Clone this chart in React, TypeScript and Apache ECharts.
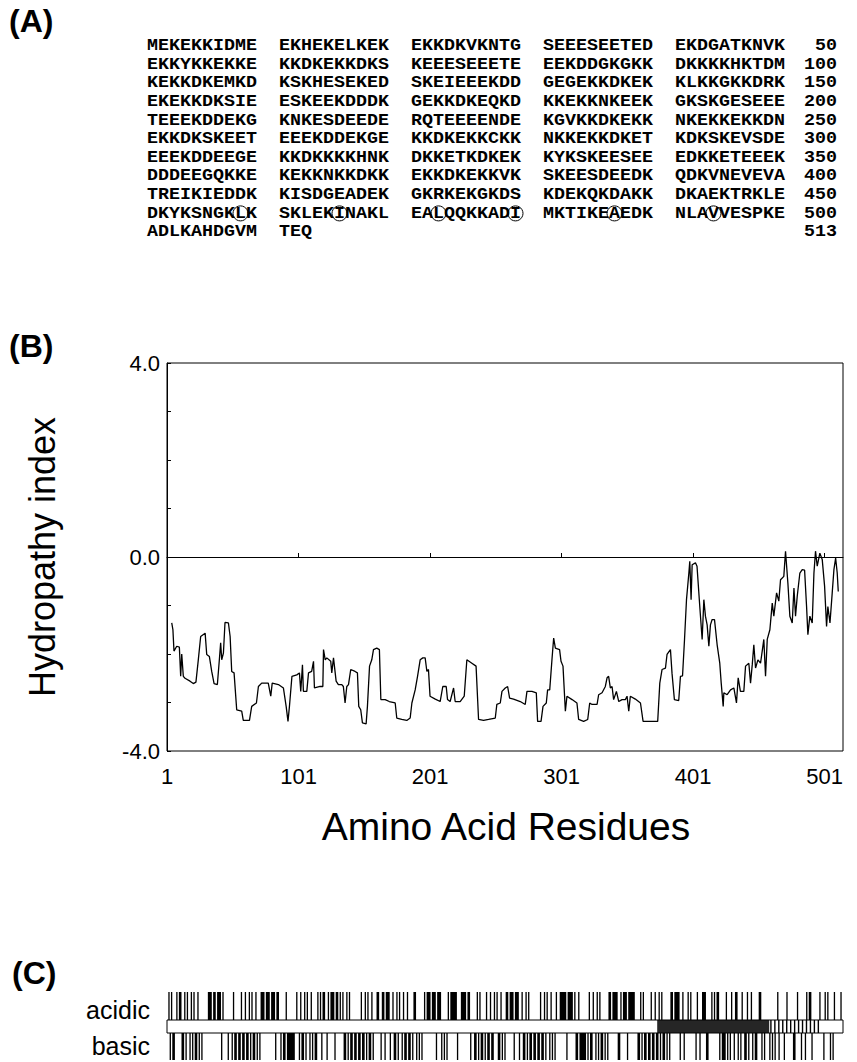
import React, { useEffect, useRef } from "react";
import * as echarts from "echarts";

// ---------- DATA ----------
const seqRows: string[][] = [
  ["MEKEKKIDME", "EKHEKELKEK", "EKKDKVKNTG", "SEEESEETED", "EKDGATKNVK"],
  ["EKKYKKEKKE", "KKDKEKKDKS", "KEEESEEETE", "EEKDDGKGKK", "DKKKKHKTDM"],
  ["KEKKDKEMKD", "KSKHESEKED", "SKEIEEEKDD", "GEGEKKDKEK", "KLKKGKKDRK"],
  ["EKEKKDKSIE", "ESKEEKDDDK", "GEKKDKEQKD", "KKEKKNKEEK", "GKSKGESEEE"],
  ["TEEEKDDEKG", "KNKESDEEDE", "RQTEEEENDE", "KGVKKDKEKK", "NKEKKEKKDN"],
  ["EKKDKSKEET", "EEEKDDEKGE", "KKDKEKKCKK", "NKKEKKDKET", "KDKSKEVSDE"],
  ["EEEKDDEEGE", "KKDKKKKHNK", "DKKETKDKEK", "KYKSKEESEE", "EDKKETEEEK"],
  ["DDDEEGQKKE", "KEKKNKKDKK", "EKKDKEKKVK", "SKEESDEEDK", "QDKVNEVEVA"],
  ["TREIKIEDDK", "KISDGEADEK", "GKRKEKGKDS", "KDEKQKDAKK", "DKAEKTRKLE"],
  ["DKYKSNGKLK", "SKLEKINAKL", "EALQQKKADI", "MKTIKEAEDK", "NLAVVESPKE"],
  ["ADLKAHDGVM", "TEQ"],
];
const rowNumbers = ["50", "100", "150", "200", "250", "300", "350", "400", "450", "500", "513"];
const circledResidues = [459, 466, 473, 480, 487, 494];

// hydropathy profile: residue offset (residue number - 1) and index value
const hydroOffset = [
  3.6, 4.5, 5.3, 7.4, 9.4, 10.4, 11.2, 12.4, 13.7, 17.5, 20, 22, 23.8, 25.6, 29, 30.2, 32.2, 34, 35.8, 38.3,
  39.8, 40.8, 41.6, 42.9, 44.1, 46.7, 48, 49.2, 51, 53, 56.8, 58, 62.7, 64.4, 68, 69.5, 72, 77, 78.9, 80,
  84.7, 88.5, 90.6, 92, 93.1, 95, 98.7, 100.7, 101.7, 103, 103.7, 106.3, 107.6, 110, 111.4, 112.1, 116.4, 118.5, 119, 120.3,
  121.5, 124.5, 125.3, 126.6, 128.6, 130.3, 132.9, 134.1, 135.4, 136.7, 138, 139.7, 143, 144.8, 145.8, 147.3, 148.6, 151.4, 152.4, 154,
  155.7, 157, 159.5, 161.5, 162.6, 165.9, 169, 173.5, 174.7, 178.5, 182.3, 184.9, 186.2, 188.7, 190.5, 192.5, 194.5, 196.3, 197.6, 198.8,
  200, 204, 207.7, 209.7, 212.3, 213.3, 215.3, 217.9, 219.1, 222.9, 226, 228, 231.8, 235, 236.9, 240.7, 244.5, 249.6, 250.8, 253.4,
  254.7, 257.2, 259, 260.5, 263.5, 268.6, 272.4, 273.7, 277.5, 280.8, 281.8, 284.4, 285.9, 288.4, 289.4, 291, 292.7, 294, 295.3, 298.5,
  299.6, 301.1, 302.9, 304.1, 308, 311.7, 313, 316.8, 319.9, 321.4, 323.2, 327, 328.2, 330.8, 333.3, 334.6, 335.8, 337.1, 338.4, 339.6,
  341.7, 343.5, 346, 348.5, 349.8, 351.1, 352.3, 356.1, 360, 362, 367.6, 373.1, 374.7, 376.4, 379, 380.2, 382.8, 384, 385.8, 389.1,
  390.4, 392, 393.5, 395, 396.8, 397.5, 398.5, 399.3, 401.8, 403, 405.1, 406.9, 408.2, 409.4, 410.7, 412, 413.2, 414.5, 416.3, 418.3,
  420.3, 421.4, 422.9, 423.4, 425.9, 428.5, 431, 433, 434.3, 436, 438.6, 439.9, 442.4, 443.7, 445, 446.2, 447.5, 449.3, 451.3, 453.8,
  455.1, 456.4, 458.4, 460.2, 461.4, 463.5, 465.2, 466.5, 469, 470.3, 472.1, 473.6, 475.4, 476.7, 477.9, 479.2, 481.2, 483, 484.8, 486.3,
  487.3, 488.8, 490.6, 491.9, 493.1, 494.4, 496.4, 498.2, 500, 501.5, 502.5, 504.1, 505.8, 507.1, 508.4, 509.6, 510.4,
];
const hydroValue = [
  -1.36, -1.5, -1.94, -1.84, -1.86, -2.46, -2.0, -2.46, -2.5, -2.56, -2.61, -2.58, -2.12, -1.64, -1.57, -2.01, -2.05, -2.36, -2.61, -2.63,
  -2.12, -1.77, -2.12, -1.98, -1.35, -1.36, -1.64, -2.36, -2.39, -3.15, -3.18, -3.37, -3.37, -3.08, -3.01, -2.67, -2.6, -2.6, -2.87, -2.6,
  -2.63, -2.7, -3.08, -3.39, -3.08, -2.46, -2.43, -2.39, -2.77, -2.22, -2.77, -2.77, -2.39, -2.36, -2.15, -2.7, -2.67, -2.67, -1.91, -2.12,
  -2.08, -2.15, -2.39, -2.08, -2.56, -2.63, -2.63, -2.67, -3.01, -2.67, -2.63, -2.32, -2.36, -2.39, -3.08, -3.15, -3.42, -3.44, -3.08, -2.25,
  -2.12, -1.91, -1.88, -1.91, -2.94, -2.94, -2.98, -3.01, -3.32, -3.35, -3.37, -3.32, -3.01, -2.74, -2.46, -2.12, -2.08, -2.08, -2.36, -2.32,
  -2.87, -2.93, -2.98, -2.67, -2.67, -2.94, -2.98, -2.7, -2.98, -2.98, -2.87, -2.12, -2.19, -2.25, -3.35, -3.37, -3.35, -3.32, -3.04, -3.01,
  -2.77, -2.7, -2.67, -2.91, -2.93, -2.98, -3.04, -2.77, -2.77, -2.8, -3.39, -3.39, -3.08, -3.01, -2.74, -2.74, -2.12, -1.67, -1.88, -1.91,
  -2.15, -2.25, -3.18, -2.87, -2.94, -3.01, -3.35, -3.39, -3.35, -3.01, -3.04, -3.04, -2.84, -2.8, -2.67, -2.49, -2.46, -2.7, -2.67, -2.94,
  -2.77, -2.98, -2.94, -2.94, -2.87, -3.18, -2.87, -2.93, -3.01, -3.39, -3.39, -3.39, -2.6, -2.32, -2.29, -2.01, -1.91, -2.4, -2.94, -2.96,
  -2.46, -2.45, -1.7, -0.88, -0.33, -0.09, -0.88, -0.16, -0.12, -0.19, -1.02, -1.7, -0.88, -1.22, -1.4, -1.84, -1.4, -1.29, -1.29, -1.81,
  -2.19, -2.6, -3.08, -2.8, -2.84, -2.74, -2.7, -3.01, -2.49, -2.77, -2.77, -2.25, -2.19, -2.6, -2.22, -1.81, -2.29, -2.12, -2.19, -1.7,
  -2.46, -1.7, -1.5, -0.95, -1.22, -0.74, -0.91, -0.47, -0.4, 0.12, -0.54, -1.22, -1.36, -0.64, -1.22, -0.81, -0.33, -0.26, -0.27, -1.02,
  -1.6, -1.22, -1.36, -0.33, 0.12, -0.19, 0.08, -0.05, -0.6, -1.43, -1.02, -1.36, -0.74, -0.26, -0.02, -0.33, -0.71,
];
const labeledYTicks = [-4, 0, 4];
const acidicLetters = "DE";
const basicLetters = "KRH";
const proteinLength = 513;
const darkRegion = [372, 457];
const stripedRegion = [457, 496];

// ---------- LAYOUT ----------
const W = 857;
const H = 1062;
const seqX0 = 147;
const charW = 11;
const groupStep = 132;
const rowY0 = 46;
const rowStep = 18.6;
const numRight = 837;
const monoFont = "'Liberation Mono', 'Courier New', monospace";
const sansFont = "'Liberation Sans', Arial, Helvetica, sans-serif";
const seqFontSize = 16.2;
const seqFont = `bold ${seqFontSize}px ${monoFont}`;
const seqScaleX = charW / (seqFontSize * 0.6);

function buildRuns() {
  const seq = seqRows.map((r) => r.join("")).join("");
  const runs: number[][] = [];
  const push = (kind: number, test: (c: string) => boolean) => {
    let start = -1;
    for (let i = 0; i <= seq.length; i++) {
      const ok = i < seq.length && test(seq[i]);
      if (ok && start < 0) start = i;
      if (!ok && start >= 0) {
        runs.push([start, i, kind]);
        start = -1;
      }
    }
  };
  push(0, (c) => acidicLetters.includes(c));
  push(1, (c) => basicLetters.includes(c));
  return runs;
}

function buildGraphics() {
  const els: any[] = [];
  const label = (text: string, x: number, y: number) =>
    els.push({
      type: "text",
      x,
      y,
      style: { text, font: `bold 32px ${sansFont}`, fill: "#000", verticalAlign: "middle" },
    });
  label("(A)", 9, 21);
  label("(B)", 9, 346);
  label("(C)", 12, 973);

  seqRows.forEach((groups, r) => {
    const y = rowY0 + r * rowStep;
    groups.forEach((g, gi) => {
      els.push({
        type: "text",
        x: seqX0 + gi * groupStep,
        y,
        scaleX: seqScaleX,
        style: { text: g, font: seqFont, fill: "#000", verticalAlign: "middle" },
      });
    });
    els.push({
      type: "text",
      x: numRight,
      y,
      scaleX: seqScaleX,
      style: { text: rowNumbers[r], font: seqFont, fill: "#000", align: "right", verticalAlign: "middle" },
    });
  });

  circledResidues.forEach((res) => {
    const idx = res - 1;
    const row = Math.floor(idx / 50);
    const inRow = idx % 50;
    const g = Math.floor(inRow / 10);
    const c = inRow % 10;
    els.push({
      type: "circle",
      shape: { cx: seqX0 + g * groupStep + (c + 0.5) * charW, cy: rowY0 + row * rowStep, r: 7.5 },
      style: { fill: "none", stroke: "#000", lineWidth: 1 },
    });
  });

  els.push({
    type: "text",
    x: 42,
    y: 557,
    rotation: Math.PI / 2,
    style: { text: "Hydropathy index", font: `36px ${sansFont}`, fill: "#000", align: "center", verticalAlign: "middle" },
  });
  els.push({
    type: "text",
    x: 506,
    y: 826,
    style: { text: "Amino Acid Residues", font: `39px ${sansFont}`, fill: "#000", align: "center", verticalAlign: "middle" },
  });
  els.push({
    type: "text",
    x: 150,
    y: 1010,
    style: { text: "acidic", font: `25px ${sansFont}`, fill: "#000", align: "right", verticalAlign: "middle" },
  });
  els.push({
    type: "text",
    x: 150,
    y: 1046,
    style: { text: "basic", font: `25px ${sansFont}`, fill: "#000", align: "right", verticalAlign: "middle" },
  });
  return els;
}

export default function App() {
  const ref = useRef<HTMLDivElement>(null);
  useEffect(() => {
    if (!ref.current) return;
    const chart = echarts.init(ref.current, undefined, { renderer: "svg" });
    const hydroData = hydroOffset.map((x, i) => [x, hydroValue[i]]);
    const runs = buildRuns();
    const boxItems = [
      [0, proteinLength, 0],
      [darkRegion[0], darkRegion[1], 1],
      [stripedRegion[0], stripedRegion[1], 2],
      [0, proteinLength, 3],
    ];
    const bandTopH = 28;
    const boxH = 13;
    const option: any = {
      animation: false,
      backgroundColor: "#fff",
      grid: [
        { left: 167, top: 363, width: 676, height: 388, show: true, borderColor: "#000", borderWidth: 1 },
        { left: 167, top: 992, width: 676, height: 68 },
      ],
      xAxis: [
        {
          type: "value",
          gridIndex: 0,
          min: 0,
          max: 514,
          interval: 100,
          axisLine: { show: true, lineStyle: { color: "#000", width: 1 } },
          axisTick: { show: true, inside: true, length: 4, lineStyle: { color: "#000" } },
          splitLine: { show: false },
          axisLabel: {
            color: "#000",
            fontFamily: sansFont,
            fontSize: 22,
            margin: 14,
            showMaxLabel: false,
            formatter: (v: number) => (v % 100 === 0 ? String(v + 1) : ""),
          },
        },
        { type: "value", gridIndex: 1, min: 0, max: proteinLength, show: false },
      ],
      yAxis: [
        {
          type: "value",
          gridIndex: 0,
          min: -4,
          max: 4,
          interval: 1,
          axisLine: { show: true, lineStyle: { color: "#000", width: 1 } },
          axisTick: { show: true, inside: true, length: 4, lineStyle: { color: "#000" } },
          splitLine: { show: false },
          axisLabel: {
            color: "#000",
            fontFamily: sansFont,
            fontSize: 22,
            margin: 7,
            formatter: (v: number) => (labeledYTicks.includes(v) ? v.toFixed(1) : ""),
          },
        },
        { type: "value", gridIndex: 1, min: 0, max: 1, show: false },
      ],
      series: [
        {
          type: "line",
          xAxisIndex: 0,
          yAxisIndex: 0,
          data: hydroData,
          showSymbol: false,
          symbol: "none",
          lineStyle: { color: "#000", width: 1.3 },
          silent: true,
          markLine: {
            silent: true,
            symbol: ["none", "none"],
            label: { show: false },
            lineStyle: { color: "#000", width: 1, type: "solid" },
            data: [{ yAxis: 0 }],
          },
        },
        {
          type: "custom",
          xAxisIndex: 1,
          yAxisIndex: 1,
          data: runs,
          silent: true,
          renderItem: (params: any, api: any) => {
            const s = api.value(0);
            const e = api.value(1);
            const k = api.value(2);
            const x0 = api.coord([s, 0])[0];
            const x1 = api.coord([e, 0])[0];
            const cs = params.coordSys;
            const y = k === 0 ? cs.y : cs.y + bandTopH + boxH;
            const h = k === 0 ? bandTopH : cs.height - bandTopH - boxH;
            return { type: "rect", shape: { x: x0, y, width: x1 - x0, height: h }, style: { fill: "#000" } };
          },
        },
        {
          type: "custom",
          xAxisIndex: 1,
          yAxisIndex: 1,
          data: boxItems,
          silent: true,
          renderItem: (params: any, api: any) => {
            const s = api.value(0);
            const e = api.value(1);
            const k = api.value(2);
            const x0 = api.coord([s, 0])[0];
            const x1 = api.coord([e, 0])[0];
            const cs = params.coordSys;
            const y = cs.y + bandTopH;
            if (k === 0) {
              return { type: "rect", shape: { x: x0, y, width: x1 - x0, height: boxH }, style: { fill: "#fff" } };
            }
            if (k === 1) {
              return { type: "rect", shape: { x: x0, y, width: x1 - x0, height: boxH }, style: { fill: "#262626" } };
            }
            if (k === 2) {
              const children: any[] = [];
              const step = api.size([3, 0])[0];
              for (let x = x0 + 1; x < x1 - 1; x += step) {
                children.push({ type: "rect", shape: { x, y, width: 1.4, height: boxH }, style: { fill: "#000" } });
              }
              return { type: "group", children };
            }
            return {
              type: "rect",
              shape: { x: x0, y, width: x1 - x0, height: boxH },
              style: { fill: "none", stroke: "#000", lineWidth: 1 },
            };
          },
        },
      ],
      graphic: buildGraphics(),
    };
    chart.setOption(option);
    return () => chart.dispose();
  }, []);
  return <div ref={ref} style={{ position: "fixed", left: 0, top: 0, width: W, height: H }} />;
}
